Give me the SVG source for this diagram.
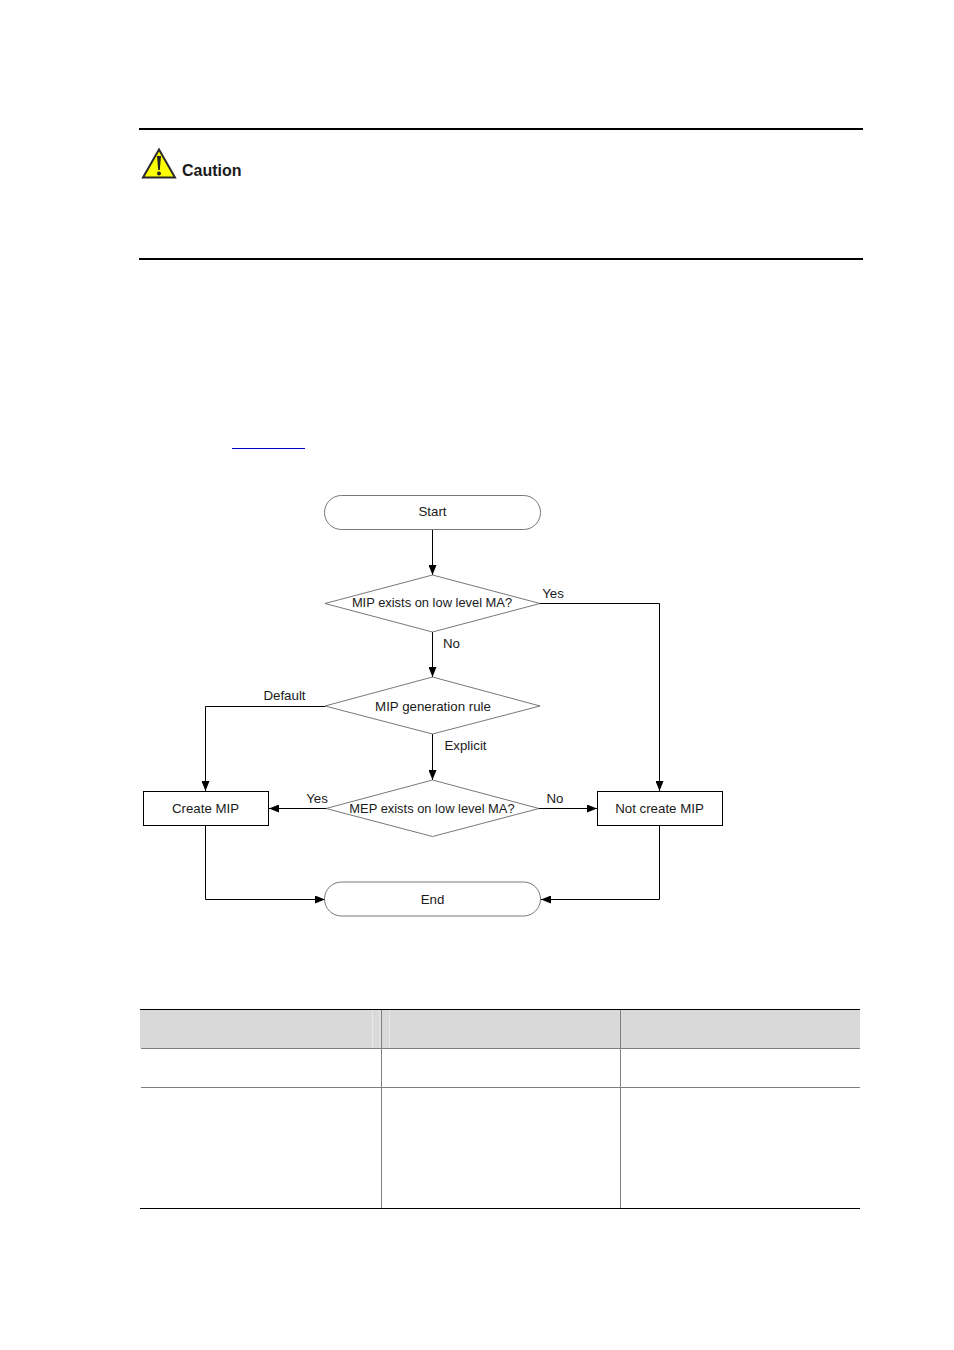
<svg xmlns="http://www.w3.org/2000/svg" width="954" height="1350" viewBox="0 0 954 1350">
<style>
text{font-family:"Liberation Sans",Arial,sans-serif;fill:#1a1a1a}
.l{font-size:13.300px;text-anchor:middle}
.m{font-size:12.900px}
.s{fill:#fff;stroke:#555;stroke-width:.8}
.b{fill:#fff;stroke:#000;stroke-width:1}
.c{fill:none;stroke:#000;stroke-width:1;marker-end:url(#a)}
.k{stroke:#000;stroke-width:2}
.g{stroke:#808080;stroke-width:1}
</style>
<defs><marker id="a" markerUnits="userSpaceOnUse" markerWidth="11" markerHeight="8" refX="10" refY="4" orient="auto"><path d="M0 0L10 4L0 8z" fill="#000"/></marker></defs>
<rect width="954" height="1350" fill="#fff"/>
<g id="caution">
<path class="k" d="M139 129H863M139 259H863"/>
<path d="M159 149.500L175 177.500H143z" fill="#ff0" stroke="#2a2a2a" stroke-width="2"/>
<path d="M157 156H161L159.800 170H158.200z" fill="#222"/><circle cx="159" cy="173.500" r="2" fill="#222"/>
<text x="182" y="175.500" font-size="16" font-weight="700">Caution</text>
</g>
<path id="link" d="M232 448.500H305" stroke="#00c" stroke-width="1"/>
<g id="connectors">
<path class="c" d="M432.500 530V575"/>
<path class="c" d="M432.500 632V677"/>
<path class="c" d="M432.500 734V780"/>
<path class="c" d="M540 603.500H659.500V791"/>
<path class="c" d="M325 706.500H205.500V791"/>
<path class="c" d="M326 808.500H269"/>
<path class="c" d="M539 808.500H597"/>
<path class="c" d="M205.500 826V899.500H325"/>
<path class="c" d="M659.500 826V899.500H541"/>
<text class="l" x="553" y="598">Yes</text>
<text class="l" x="451.500" y="648">No</text>
<text class="l" x="284.500" y="699.500">Default</text>
<text class="l" x="465.500" y="750">Explicit</text>
<text class="l" x="317" y="803">Yes</text>
<text class="l" x="555" y="803">No</text>
</g>
<g id="start"><rect class="s" x="324.500" y="495.500" width="216" height="34" rx="17"/><text class="l" x="432.500" y="516">Start</text></g>
<g id="d1"><path class="s" d="M432.500 575L540 603.500L432.500 632L325 603.500z"/><text class="l m" x="432" y="607">MIP exists on low level MA?</text></g>
<g id="d2"><path class="s" d="M432.500 677L540 706L432.500 734L325 706z"/><text class="l" x="433" y="711">MIP generation rule</text></g>
<g id="d3"><path class="s" d="M432.500 780L539 808.500L432.500 836.500L326 808.500z"/><text class="l m" x="432" y="813">MEP exists on low level MA?</text></g>
<g id="create"><rect class="b" x="143.500" y="791.500" width="125" height="34"/><text class="l" x="205.500" y="813">Create MIP</text></g>
<g id="notcreate"><rect class="b" x="597.500" y="791.500" width="125" height="34"/><text class="l" x="659.500" y="813">Not create MIP</text></g>
<g id="end"><rect class="s" x="324.500" y="882" width="216" height="34" rx="17"/><text class="l" x="432.500" y="904">End</text></g>
<g id="table">
<rect x="140" y="1010" width="720" height="38" fill="#d9d9d9"/>
<path d="M372.500 1010V1048M380 1010V1048M389.500 1010V1048" stroke="#e8e8e8"/>
<path class="g" d="M381.500 1010V1208M620.500 1010V1208M141 1048.500H860M141 1087.500H860"/>
<path d="M140 1009.500H860M140 1208.500H860" stroke="#000"/>
</g>
</svg>
